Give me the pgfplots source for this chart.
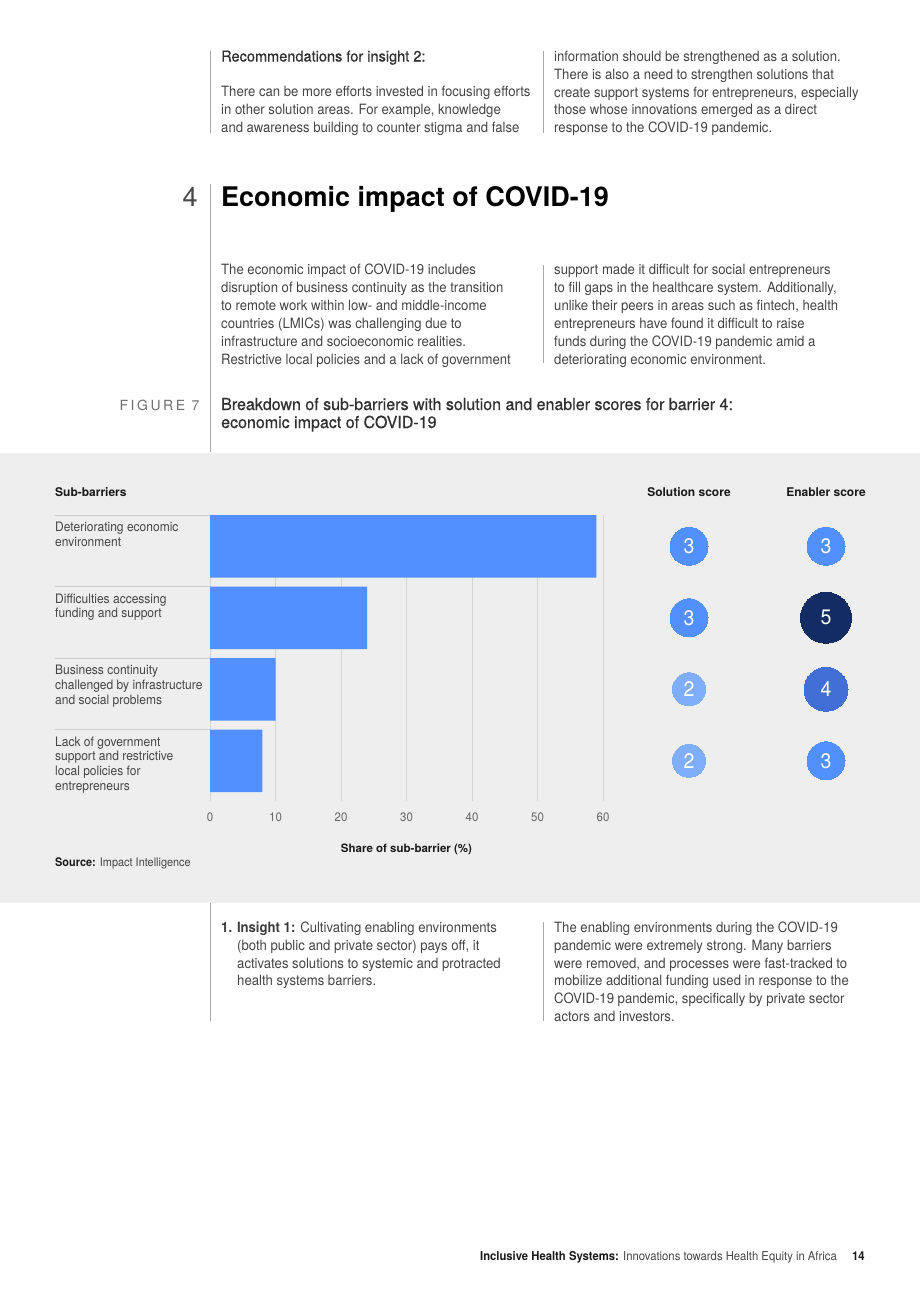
\documentclass[border=0pt]{standalone}
\usepackage{pgfplots}
\pgfplotsset{compat=1.18}
\usepackage{pgfplotstable}
\usepackage{fontspec}
\setmainfont{TeX Gyre Heros}
\definecolor{bodytxt}{HTML}{454545}
\definecolor{darktxt}{HTML}{1A1A1A}
\definecolor{rulegray}{HTML}{A8A8A8}
\definecolor{panelgray}{HTML}{EEEEEE}
\definecolor{gridgray}{HTML}{D4D4D4}
\definecolor{sepgray}{HTML}{CDCDCD}
\definecolor{tickgray}{HTML}{666666}
\definecolor{figgray}{HTML}{6E6E6E}
\definecolor{barblue}{HTML}{5290FF}
\definecolor{sctwo}{HTML}{7FAEFF}
\definecolor{scthree}{HTML}{5290FF}
\definecolor{scfour}{HTML}{426FD6}
\definecolor{scfive}{HTML}{132D64}

\pgfplotstableread{
y      share
0.4375 59
1.4375 24
2.4375 10
3.4375 8
}\sharetable

\newcommand\para[5]{%
  \foreach \t [count=\i from 0] in {#5}{%
    \node[anchor=base west, inner sep=0pt, #4] at (#1,{-(#2)-(\i)*(#3)}) {\t};
  }%
}

\tikzset{
  body/.style={font=\fontsize{14.2}{16}\selectfont\addfontfeatures{FakeStretch=0.925}, text=bodytxt},
  lab/.style={font=\fontsize{13}{15}\selectfont\addfontfeatures{FakeStretch=0.925}, text=bodytxt},
  med/.style={font=\fontsize{#1}{16}\selectfont\addfontfeatures{FakeBold=0.5,FakeStretch=0.97}, text=darktxt!90},
}

\begin{document}
\begin{tikzpicture}[x=1pt,y=1pt]
\fill[white] (0,0) rectangle (920,-1302);
\path[use as bounding box] (0,0) rectangle (920,-1302);

% ---------- top text ----------
\draw[rulegray, line width=0.8pt] (210,-50.5) -- (210,-133);
\draw[rulegray, line width=0.8pt] (543,-50.5) -- (543,-133);
\node[anchor=base west, inner sep=0pt, med=15] at (221,-61.5) {Recommendations for insight 2:};
\para{221}{96.7}{17.8}{body}{{There can be more efforts invested in focusing efforts},{in other solution areas. For example, knowledge},{and awareness building to counter stigma and false}}
\para{554}{61.5}{17.8}{body}{{information should be strengthened as a solution.},{There is also a need to strengthen solutions that},{create support systems for entrepreneurs, especially},{those whose innovations emerged as a direct},{response to the COVID-19 pandemic.}}

% ---------- section heading ----------
\draw[rulegray, line width=0.8pt] (210,-184) -- (210,-452);
\node[anchor=base west, inner sep=0pt, font=\fontsize{27}{30}\selectfont, text=darktxt!80] at (182.5,-206.7) {4};
\node[anchor=base west, inner sep=0pt, font=\bfseries\fontsize{27}{30}\selectfont, text=black] at (221,-206.7) {Economic impact of COVID-19};

\draw[rulegray, line width=0.8pt] (543,-265) -- (543,-363);
\para{221}{274.5}{17.9}{body}{{The economic impact of COVID-19 includes},{disruption of business continuity as the transition},{to remote work within low- and middle-income},{countries (LMICs) was challenging due to},{infrastructure and socioeconomic realities.},{Restrictive local policies and a lack of government}}
\para{554}{274.5}{17.9}{body}{{support made it difficult for social entrepreneurs},{to fill gaps in the healthcare system. Additionally,},{unlike their peers in areas such as fintech, health},{entrepreneurs have found it difficult to raise},{funds during the COVID-19 pandemic amid a},{deteriorating economic environment.}}

% ---------- figure title ----------
\node[anchor=base east, inner sep=0pt, font=\fontsize{14}{16}\selectfont\addfontfeatures{LetterSpace=18}, text=figgray] at (199.5,-410) {FIGURE 7};
\node[anchor=base west, inner sep=0pt, med=16.5] at (221,-410) {Breakdown of sub-barriers with solution and enabler scores for barrier 4:};
\node[anchor=base west, inner sep=0pt, med=16.5] at (221,-428) {economic impact of COVID-19};

% ---------- panel ----------
\fill[panelgray] (0,-452.5) rectangle (920,-903);

\node[anchor=base west, inner sep=0pt, font=\bfseries\fontsize{12}{14}\selectfont, text=darktxt] at (55,-496.5) {Sub-barriers};
\node[anchor=base, inner sep=0pt, font=\bfseries\fontsize{12}{14}\selectfont, text=darktxt] at (689,-496.5) {Solution score};
\node[anchor=base, inner sep=0pt, font=\bfseries\fontsize{12}{14}\selectfont, text=darktxt] at (826,-496.5) {Enabler score};

\foreach \yy in {515,586.5,658,729.5}{\draw[sepgray, line width=0.9pt] (55,-\yy) -- (210,-\yy);}

\para{55}{531.5}{14.8}{lab}{{Deteriorating economic},{environment}}
\para{55}{603}{14.8}{lab}{{Difficulties accessing},{funding and support}}
\para{55}{674.5}{14.8}{lab}{{Business continuity},{challenged by infrastructure},{and social problems}}
\para{55}{746}{14.8}{lab}{{Lack of government},{support and restrictive},{local policies for},{entrepreneurs}}

\begin{axis}[
  at={(210pt,-801pt)}, anchor=south west,
  scale only axis, width=393pt, height=286pt,
  xmin=0, xmax=60, ymin=0, ymax=4, y dir=reverse,
  xbar, bar width=0.875,
  xtick={0,10,20,30,40,50,60}, ytick=\empty,
  xmajorgrids, major grid style={draw=gridgray, line width=0.9pt},
  axis line style={draw=none}, major tick length=0pt,
  /pgf/number format/assume math mode=true,
  xticklabel style={font=\fontsize{12.3}{12}\selectfont\addfontfeatures{FakeStretch=0.93}, text=tickgray, anchor=base, yshift=-20.8pt},
  xlabel={Share of sub-barrier (\%)},
  xlabel style={font=\bfseries\fontsize{11.5}{13}\selectfont, text=darktxt, at={(axis description cs:0.5,0)}, anchor=base, yshift=-51.6pt},
  clip=false,
]
\addplot[fill=barblue, draw=none] table[x=share, y=y] {\sharetable};
\end{axis}

\begin{axis}[
  at={(689pt,-801pt)}, anchor=south west,
  scale only axis, width=137pt, height=286pt,
  xmin=0, xmax=1, ymin=0, ymax=4, y dir=reverse,
  hide axis, clip=false,
  point meta=explicit symbolic,
  nodes near coords,
  nodes near coords align={center},
  every node near coord/.style={anchor=center, text=white, font=\fontsize{21}{21}\selectfont\addfontfeatures{FakeStretch=0.93}, inner sep=0pt},
]
\addplot[only marks, draw=sctwo, fill=sctwo, mark=*, mark size=16.5pt, mark options={draw=sctwo, fill=sctwo, line width=0pt}] coordinates {(0,2.4375)[2] (0,3.4375)[2]};
\addplot[only marks, draw=scthree, fill=scthree, mark=*, mark size=19pt, mark options={draw=scthree, fill=scthree, line width=0pt}] coordinates {(0,0.4375)[3] (0,1.4375)[3] (1,0.4375)[3] (1,3.4375)[3]};
\addplot[only marks, draw=scfour, fill=scfour, mark=*, mark size=22pt, mark options={draw=scfour, fill=scfour, line width=0pt}] coordinates {(1,2.4375)[4]};
\addplot[only marks, draw=scfive, fill=scfive, mark=*, mark size=25.5pt, mark options={draw=scfive, fill=scfive, line width=0pt}] coordinates {(1,1.4375)[5]};
\end{axis}

\node[anchor=base west, inner sep=0pt, font=\fontsize{11.8}{13}\selectfont\addfontfeatures{FakeStretch=0.925}, text=bodytxt] at (55,-866.5) {\textbf{\color{darktxt}Source:} Impact Intelligence};

% ---------- bottom text ----------
\draw[rulegray, line width=0.8pt] (210,-903) -- (210,-1020.5);
\draw[rulegray, line width=0.8pt] (543,-922) -- (543,-1020.5);
\node[anchor=base west, inner sep=0pt, body] at (221,-932.8) {\textbf{\color{darktxt!85}1. Insight 1:} Cultivating enabling environments};
\para{237}{950.5}{17.7}{body}{{(both public and private sector) pays off, it},{activates solutions to systemic and protracted},{health systems barriers.}}
\para{554}{932.8}{17.7}{body}{{The enabling environments during the COVID-19},{pandemic were extremely strong. Many barriers},{were removed, and processes were fast-tracked to},{mobilize additional funding used in response to the},{COVID-19 pandemic, specifically by private sector},{actors and investors.}}

% ---------- footer ----------
\node[anchor=base east, inner sep=0pt, font=\fontsize{12.2}{13}\selectfont\addfontfeatures{FakeStretch=0.925}, text=bodytxt] at (837,-1260) {\textbf{\color{darktxt}Inclusive Health Systems:} Innovations towards Health Equity in Africa};
\node[anchor=base west, inner sep=0pt, font=\bfseries\fontsize{12.2}{13}\selectfont\addfontfeatures{FakeStretch=0.925}, text=darktxt] at (852,-1260) {14};
\end{tikzpicture}
\end{document}
